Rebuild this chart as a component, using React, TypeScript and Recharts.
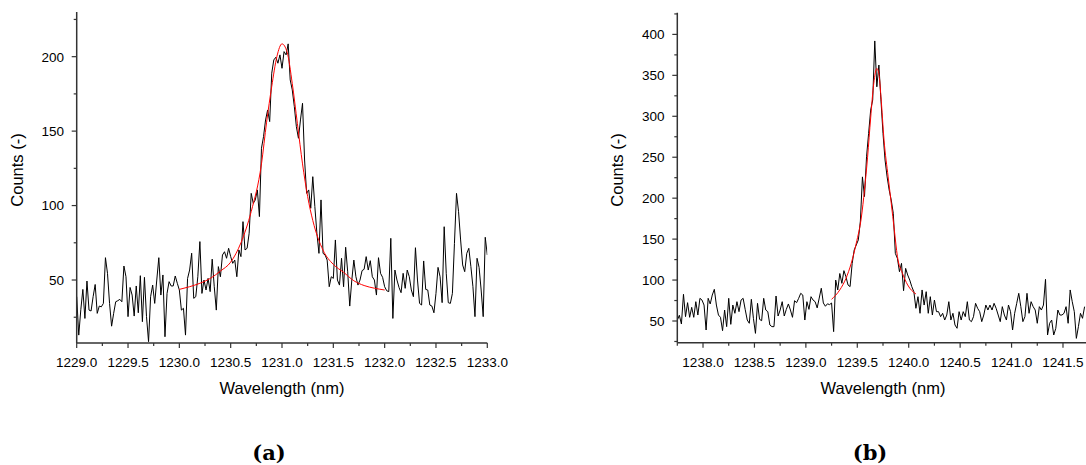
import { LineChart, Line, XAxis, YAxis } from "recharts";

// spectrometer grid: one sample every 0.02 nm
const STEP = 0.02;

// ---- panel (a) ----
const leftStartWl = 1229.0;
const leftCounts = [
  38.8, 13, 30, 43.7, 24.2, 49.3, 29.8, 29.2, 38.8, 47, 27.6, 32.5, 32, 34.3, 65, 54.5, 34.3, 19, 27.6, 35.4,
  36.1, 37, 35.4, 59.4, 52.2, 25.4, 45, 39.9, 25.8, 46, 28, 52.9, 22, 51.8, 25.4, 8.6, 38.8, 46.6, 34.3, 50,
  65, 39.9, 53.4, 11.9, 41, 48.9, 46, 46, 52.7, 47.8, 43.3, 29.8, 31, 13, 51, 56.7, 68, 37.7, 38.8, 52.2,
  75.8, 41, 50, 43.3, 51.1, 42.2, 64, 45.5, 29.8, 59, 52.2, 66.8, 69, 64.6, 71.3, 65.7, 61.2, 63.4, 52.2, 70.2,
  65.7, 89.2, 70.2, 71.3, 81.4, 108.2, 101.5, 103.8, 110.5, 92.6, 138.5, 146.3, 157.5, 164.2, 156.4, 188.9, 197.8, 199.6, 195.6, 201.2,
  192.2, 203.4, 201.2, 208.6, 184.4, 177.7, 166.5, 153, 145.2, 157.5, 168.7, 130.6, 108.2, 110.5, 98.2, 119.4, 99.3, 81.4, 67.9, 103.8,
  67.9, 66.8, 63.4, 45.5, 52.2, 51.1, 76.9, 50, 46.6, 64.6, 45.5, 72, 55.5, 32.5, 50, 63.4, 52.2, 46.6, 50, 56.3,
  57.2, 65.7, 56.7, 63, 52.2, 50, 39.9, 65, 54.5, 51.8, 45.5, 42.8, 42.2, 78, 24.2, 56.7, 50, 45, 41.5, 54.5,
  44.4, 56.7, 52.2, 43.3, 38.8, 71.7, 50, 34.3, 33.2, 62.8, 43.7, 43.3, 33.2, 32.5, 28, 41, 58.5, 52.2, 34.8, 85.8,
  54.5, 34.8, 34.3, 41, 74.6, 108.2, 95.9, 76.9, 60.1, 55.6, 67.9, 71.3, 59, 45.5, 25.4, 64.6, 58.5, 43.3, 25.4, 78.7,
  66.8,
];
const leftFitWl = [
  1230.0, 1230.1, 1230.2, 1230.3, 1230.4, 1230.5, 1230.6, 1230.7, 1230.8, 1230.85, 1230.9, 1230.95, 1231.0,
  1231.05, 1231.1, 1231.15, 1231.2, 1231.25, 1231.3, 1231.4, 1231.5, 1231.6, 1231.7, 1231.8, 1231.9, 1232.0,
];
const leftFitCounts = [
  43.7, 45.5, 47.8, 51, 56, 62, 75, 96, 128, 156, 180, 200, 208.6,
  203, 182, 155, 128, 106, 90, 70, 60.5, 55.2, 49.5, 46.3, 44.5, 43.3,
];
const leftXTicks = [
  1229, 1229.25, 1229.5, 1229.75, 1230, 1230.25, 1230.5, 1230.75, 1231, 1231.25, 1231.5, 1231.75, 1232, 1232.25,
  1232.5, 1232.75, 1233,
];
const leftYTicks = [25, 50, 75, 100, 125, 150, 175, 200, 225];

// ---- panel (b) ----
const rightStartWl = 1237.75;
const rightCounts = [
  51, 57, 46.3, 82.6, 55.3, 72.4, 54.5, 66.7, 54.5, 73.6, 57.3, 77.7, 75.6, 69.5, 39, 77.7, 70.8, 81.7, 88.7, 69.5,
  57.3, 54.5, 38.2, 63.4, 43.1, 77.7, 45.9, 69.5, 59.4, 73.6, 61.4, 75.6, 77.7, 64.2, 51.2, 47.2, 76.5, 53.3, 34.9, 71.6,
  52, 50.4, 77.7, 63.4, 61.4, 45.1, 43.1, 43.1, 80.5, 56.1, 63.4, 73.6, 56.1, 64.2, 70.8, 63.4, 54.5, 74.8, 72.4, 77.7,
  83.8, 81.7, 51.2, 73.6, 64.2, 79.7, 75.6, 73.6, 66, 78, 90, 72, 68, 71, 70, 72, 37, 100, 87.9, 108,
  96, 111.5, 104, 94, 92, 120, 136.7, 142.8, 149, 172, 226, 202, 250.6, 279, 307.6, 320, 392, 336, 362.6, 320,
  279, 246.6, 226, 210, 197.7, 181.5, 132.6, 126.5, 110.2, 120.4, 87, 114.3, 106.2, 100, 91.9, 85.8, 65.5, 79.7, 59.4, 87.9,
  69.5, 85.8, 59.4, 79.7, 57.3, 75.6, 61.4, 61.4, 55.3, 59.4, 51.2, 57.3, 73.6, 51.2, 59.4, 45.1, 41.1, 61.4, 51.2, 61.4,
  55.3, 73.6, 51.2, 49.2, 55.3, 71.6, 65.5, 61.4, 49.2, 57.3, 69.5, 63.4, 69.5, 63.4, 71.6, 65.5, 57.3, 49.2, 67.5, 57.3,
  51.2, 69.5, 61.4, 39, 59.4, 71.6, 83.8, 67.5, 49.2, 55.3, 83.8, 59.4, 73.6, 67.5, 63.4, 47.2, 67.5, 63.4, 69.5, 100.9,
  32.9, 47.2, 51.2, 32.9, 41, 63.4, 57.3, 57.3, 59.4, 67.5, 47.2, 87.9, 73.6, 61.4, 28.8, 43.1, 59.4, 53.3, 67.5,
];
const rightFitWl = [
  1239.25, 1239.33, 1239.39, 1239.44, 1239.49, 1239.54, 1239.57, 1239.6, 1239.63, 1239.66, 1239.69,
  1239.71, 1239.73, 1239.76, 1239.8, 1239.83, 1239.86, 1239.89, 1239.94, 1239.99, 1240.07,
];
const rightFitCounts = [
  76.5, 88, 102, 120, 145, 177, 210, 250, 298, 340, 358.5,
  352, 324, 271, 226, 194, 161, 129, 108, 94, 83,
];
const rightXTicks = [
  1237.75, 1238, 1238.25, 1238.5, 1238.75, 1239, 1239.25, 1239.5, 1239.75, 1240, 1240.25, 1240.5, 1240.75, 1241,
  1241.25, 1241.5, 1241.75,
];
const rightYTicks = [25, 50, 75, 100, 125, 150, 175, 200, 225, 250, 275, 300, 325, 350, 375, 400, 425];

const AXIS = "#333";
const FONT = '"Liberation Sans", Arial, Helvetica, sans-serif';

const XTick = (props: any) => {
  const { x, y, payload } = props;
  const v = payload.value as number;
  const major = Math.abs(v * 2 - Math.round(v * 2)) < 1e-6;
  return (
    <g>
      <line x1={x} x2={x} y1={y} y2={y + (major ? 5 : 3)} stroke={AXIS} strokeWidth={1.2} />
      {major && (
        <text x={x} y={y + 24.4} textAnchor="middle" fontSize={13.5} fontFamily={FONT} fill="#000">
          {v.toFixed(1)}
        </text>
      )}
    </g>
  );
};

const YTick = (props: any) => {
  const { x, y, payload } = props;
  const v = payload.value as number;
  const major = v % 50 === 0;
  return (
    <g>
      <line x1={x} x2={x - (major ? 5 : 3)} y1={y} y2={y} stroke={AXIS} strokeWidth={1.2} />
      {major && (
        <text x={x - 12.7} y={y} dy="0.36em" textAnchor="end" fontSize={13.5} fontFamily={FONT} fill="#000">
          {v}
        </text>
      )}
    </g>
  );
};

const XTitle = ({ cx }: any) => (
  <text x={cx} y={394} textAnchor="middle" fontSize={16.5} fontFamily={FONT} fill="#000">
    Wavelength (nm)
  </text>
);

const YTitle = () => (
  <text
    x={17.5}
    y={170}
    transform="rotate(-90 17.5 170)"
    textAnchor="middle"
    dy="0.36em"
    fontSize={16.5}
    fontFamily={FONT}
    fill="#000"
  >
    Counts (-)
  </text>
);

const W = 560;
const H = 400;

type PanelProps = {
  left: number;
  spectrum: { x: number; y: number }[];
  fit: { x: number; y: number }[];
  xDomain: [number, number];
  xTicks: number[];
  yDomain: [number, number];
  yTicks: number[];
  plotLeft: number;
  plotTop: number;
  plotRight: number;
  plotBottom: number;
};

const Panel = ({ left, spectrum, fit, xDomain, xTicks, yDomain, yTicks, plotLeft, plotTop, plotRight, plotBottom }: PanelProps) => (
  <div style={{ position: "absolute", left, top: 0, width: W, height: H }}>
    <LineChart width={W} height={H} margin={{ top: plotTop, right: W - plotRight, left: 0, bottom: 0 }}>
      <XAxis
        dataKey="x"
        type="number"
        domain={xDomain}
        allowDataOverflow
        ticks={xTicks}
        interval={0}
        tickSize={0}
        tickMargin={0}
        height={H - plotBottom}
        tick={<XTick />}
        axisLine={{ stroke: AXIS, strokeWidth: 1.5 }}
        label={<XTitle cx={(plotLeft + plotRight) / 2} />}
      />
      <YAxis
        type="number"
        domain={yDomain}
        allowDataOverflow
        ticks={yTicks}
        interval={0}
        tickSize={0}
        tickMargin={0}
        width={plotLeft}
        tick={<YTick />}
        axisLine={{ stroke: AXIS, strokeWidth: 1.5 }}
        label={<YTitle />}
      />
      <Line
        data={spectrum}
        dataKey="y"
        type="linear"
        stroke="#000"
        strokeWidth={1}
        dot={false}
        isAnimationActive={false}
      />
      <Line
        data={fit}
        dataKey="y"
        type="monotone"
        stroke="#ff0000"
        strokeWidth={1}
        dot={false}
        isAnimationActive={false}
      />
    </LineChart>
  </div>
);

const captionStyle = {
  position: "absolute" as const,
  top: 439,
  width: 60,
  textAlign: "center" as const,
  fontFamily: '"DejaVu Serif", serif',
  fontWeight: 700,
  fontSize: 21,
  lineHeight: "28px",
  color: "#000",
};

export default function App() {
  const leftSpectrum = leftCounts.map((c, i) => ({ x: leftStartWl + i * STEP, y: c }));
  const leftFit = leftFitWl.map((w, i) => ({ x: w, y: leftFitCounts[i] }));
  const rightSpectrum = rightCounts.map((c, i) => ({ x: rightStartWl + i * STEP, y: c }));
  const rightFit = rightFitWl.map((w, i) => ({ x: w, y: rightFitCounts[i] }));

  return (
    <div style={{ position: "absolute", left: 0, top: 0, width: 1086, height: 465, overflow: "hidden", background: "#fff" }}>
      <Panel
        left={0}
        spectrum={leftSpectrum}
        fit={leftFit}
        xDomain={[1229, 1233]}
        xTicks={leftXTicks}
        yDomain={[7.7, 230]}
        yTicks={leftYTicks}
        plotLeft={76.7}
        plotTop={12}
        plotRight={487.3}
        plotBottom={343}
      />
      <Panel
        left={600}
        spectrum={rightSpectrum}
        fit={rightFit}
        xDomain={[1237.75, 1241.75]}
        xTicks={rightXTicks}
        yDomain={[23.5, 426.5]}
        yTicks={rightYTicks}
        plotLeft={77.3}
        plotTop={12.7}
        plotRight={488.7}
        plotBottom={342.7}
      />
      <div style={{ ...captionStyle, left: 269 - 30 }}>(a)</div>
      <div style={{ ...captionStyle, left: 870 - 30 }}>(b)</div>
    </div>
  );
}
